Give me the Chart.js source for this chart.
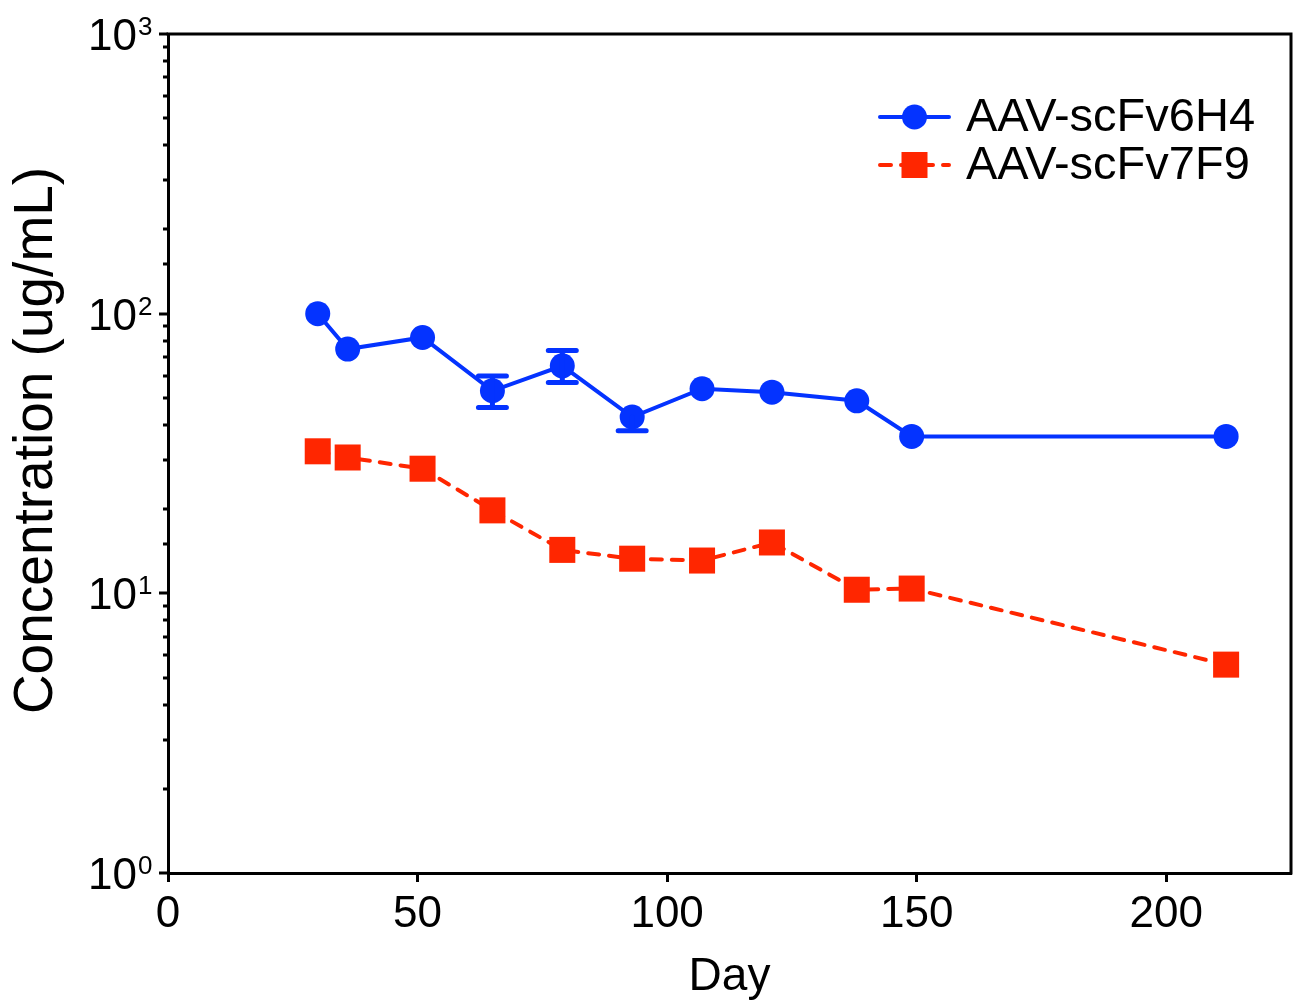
<!DOCTYPE html>
<html>
<head>
<meta charset="utf-8">
<script src="https://cdn.jsdelivr.net/npm/chart.js@4"></script>
<style>
  html, body { margin: 0; padding: 0; background: #ffffff; overflow: hidden; }
  #c { display: block; }
</style>
</head>
<body>
<canvas id="c" width="1293" height="1002"></canvas>
<script>
// ---- data ----
const days = [30, 36, 51, 65, 79, 93, 107, 121, 138, 149, 212];
const scFv6H4 = [100, 74.7, 82.2, 53.0, 65.1, 42.7, 53.9, 52.4, 48.8, 36.4, 36.4];
const scFv6H4ErrPlus  = [0, 0, 0, 6.8, 8.7, 0, 0, 0, 0, 0, 0];
const scFv6H4ErrMinus = [0, 0, 0, 6.8, 8.4, 4.6, 0, 0, 0, 0, 0];
const scFv7F9 = [32.2, 30.6, 27.9, 19.8, 14.3, 13.3, 13.1, 15.2, 10.3, 10.4, 5.56];
const seriesLabels = ['AAV-scFv6H4', 'AAV-scFv7F9'];
const xTickValues = [0, 50, 100, 150, 200];
const yMajorExponents = [0, 1, 2, 3];
const xTitle = 'Day';
const yTitle = 'Concentration (ug/mL)';

const BLUE = '#0433FF';
const RED = '#FF2600';
const FONT = '"Liberation Sans", Arial, Helvetica, sans-serif';

function isPow10(v) {
  const e = Math.log10(v);
  return Math.abs(e - Math.round(e)) < 1e-9;
}

// y axis: tick marks (major longer than minor), power-of-ten labels, title, frame
const yAxisDecor = {
  id: 'yAxisDecor',
  afterDraw(chart) {
    const ys = chart.scales.y, ca = chart.chartArea, ctx = chart.ctx;
    ctx.save();
    ctx.strokeStyle = '#000';
    ctx.lineWidth = 3;
    ys.ticks.forEach(t => {
      const py = Math.round(ys.getPixelForValue(t.value));
      const len = isPow10(t.value) ? 9 : 5;
      ctx.beginPath();
      ctx.moveTo(ca.left - len, py);
      ctx.lineTo(ca.left, py);
      ctx.stroke();
    });
    // labels 10^n
    ctx.fillStyle = '#000';
    ctx.textBaseline = 'alphabetic';
    yMajorExponents.forEach(e => {
      const py = ys.getPixelForValue(Math.pow(10, e));
      const base = py + 16;
      ctx.font = '44px ' + FONT;
      ctx.textAlign = 'right';
      ctx.fillText('10', ca.left - 31, base);
      ctx.font = '26px ' + FONT;
      ctx.textAlign = 'left';
      ctx.fillText(String(e), ca.left - 30, base - 15);
    });
    // y title
    ctx.save();
    ctx.translate(37, (ca.top + ca.bottom) / 2 - 13);
    ctx.rotate(-Math.PI / 2);
    ctx.font = '55px ' + FONT;
    ctx.textAlign = 'center';
    ctx.textBaseline = 'middle';
    ctx.fillText(yTitle, 0, 0);
    ctx.restore();
    // frame: top and right
    ctx.beginPath();
    ctx.moveTo(ca.left - 1.5, ca.top);
    ctx.lineTo(ca.right, ca.top);
    ctx.lineTo(ca.right, ca.bottom + 1.5);
    ctx.stroke();
    ctx.restore();
  }
};

// error bars for the first dataset
const errorBars = {
  id: 'errorBars',
  afterDatasetsDraw(chart) {
    const xs = chart.scales.x, ys = chart.scales.y, ctx = chart.ctx;
    ctx.save();
    ctx.strokeStyle = BLUE;
    ctx.lineWidth = 5;
    ctx.lineCap = 'round';
    days.forEach((d, i) => {
      const up = scFv6H4ErrPlus[i], dn = scFv6H4ErrMinus[i];
      if (!up && !dn) return;
      const px = xs.getPixelForValue(d);
      const pm = ys.getPixelForValue(scFv6H4[i]);
      const half = 14;
      ctx.beginPath();
      if (up) {
        const pt = ys.getPixelForValue(scFv6H4[i] + up);
        ctx.moveTo(px, pm); ctx.lineTo(px, pt);
        ctx.moveTo(px - half, pt); ctx.lineTo(px + half, pt);
      }
      if (dn) {
        const pb = ys.getPixelForValue(scFv6H4[i] - dn);
        ctx.moveTo(px, pm); ctx.lineTo(px, pb);
        ctx.moveTo(px - half, pb); ctx.lineTo(px + half, pb);
      }
      ctx.stroke();
    });
    ctx.restore();
  }
};

// legend with line + marker
const lineLegend = {
  id: 'lineLegend',
  afterDraw(chart) {
    const ctx = chart.ctx, ca = chart.chartArea;
    const x0 = ca.right - 411, x1 = ca.right - 342, tx = ca.right - 325;
    const rows = [ca.top + 83, ca.top + 131];
    ctx.save();
    chart.data.datasets.forEach((ds, i) => {
      const y = rows[i];
      ctx.strokeStyle = ds.borderColor;
      ctx.lineWidth = ds.borderWidth;
      ctx.lineCap = 'round';
      ctx.setLineDash(ds.borderDash || []);
      ctx.beginPath();
      ctx.moveTo(x0, y); ctx.lineTo(x1, y);
      ctx.stroke();
      ctx.setLineDash([]);
      const cx = (x0 + x1) / 2;
      ctx.fillStyle = ds.backgroundColor;
      if (ds.pointStyle === 'rect') {
        ctx.fillRect(cx - 13, y - 13, 26, 26);
      } else {
        ctx.beginPath();
        ctx.arc(cx, y, 12.5, 0, Math.PI * 2);
        ctx.fill();
      }
      ctx.fillStyle = '#000';
      ctx.font = '47px ' + FONT;
      ctx.textBaseline = 'middle';
      ctx.textAlign = 'left';
      ctx.fillText(ds.label, tx, y + 1);
    });
    ctx.restore();
  }
};

new Chart(document.getElementById('c'), {
  type: 'line',
  data: {
    datasets: [
      {
        label: seriesLabels[0],
        data: days.map((d, i) => ({x: d, y: scFv6H4[i]})),
        borderColor: BLUE,
        backgroundColor: BLUE,
        borderWidth: 4,
        pointStyle: 'circle',
        pointRadius: 12.5,
        pointBorderWidth: 0,
        pointHoverRadius: 12.5,
        tension: 0
      },
      {
        label: seriesLabels[1],
        data: days.map((d, i) => ({x: d, y: scFv7F9[i]})),
        borderColor: RED,
        backgroundColor: RED,
        borderWidth: 4,
        borderDash: [11, 10],
        borderCapStyle: 'round',
        pointStyle: 'rect',
        pointRadius: 18.4,
        pointBorderWidth: 0,
        pointHoverRadius: 18.4,
        tension: 0
      }
    ]
  },
  options: {
    responsive: false,
    animation: false,
    events: [],
    layout: { autoPadding: false, padding: { top: 34, right: 2, left: 0, bottom: 0 } },
    plugins: { legend: { display: false }, tooltip: { enabled: false } },
    scales: {
      x: {
        type: 'linear',
        min: 0, max: 225,
        afterBuildTicks(scale) { scale.ticks = xTickValues.map(v => ({value: v})); },
        afterFit(scale) { scale.height = 129; },
        ticks: {
          includeBounds: false,
          color: '#000',
          font: { family: FONT, size: 44 },
          padding: 6,
          maxRotation: 0,
          autoSkip: false
        },
        grid: {
          display: true,
          drawOnChartArea: false,
          drawTicks: true,
          tickLength: 9,
          tickWidth: 3,
          tickColor: '#000'
        },
        border: { display: true, color: '#000', width: 3 },
        title: {
          display: true,
          text: xTitle,
          color: '#000',
          font: { family: FONT, size: 46 },
          padding: { top: 0, bottom: -3 }
        }
      },
      y: {
        type: 'logarithmic',
        min: 1, max: 1000,
        afterFit(scale) { scale.width = 168; },
        ticks: { display: false, autoSkip: false },
        grid: { display: false, drawTicks: false },
        border: { display: true, color: '#000', width: 3 },
        title: { display: false }
      }
    }
  },
  plugins: [errorBars, yAxisDecor, lineLegend]
});
</script>
</body>
</html>
